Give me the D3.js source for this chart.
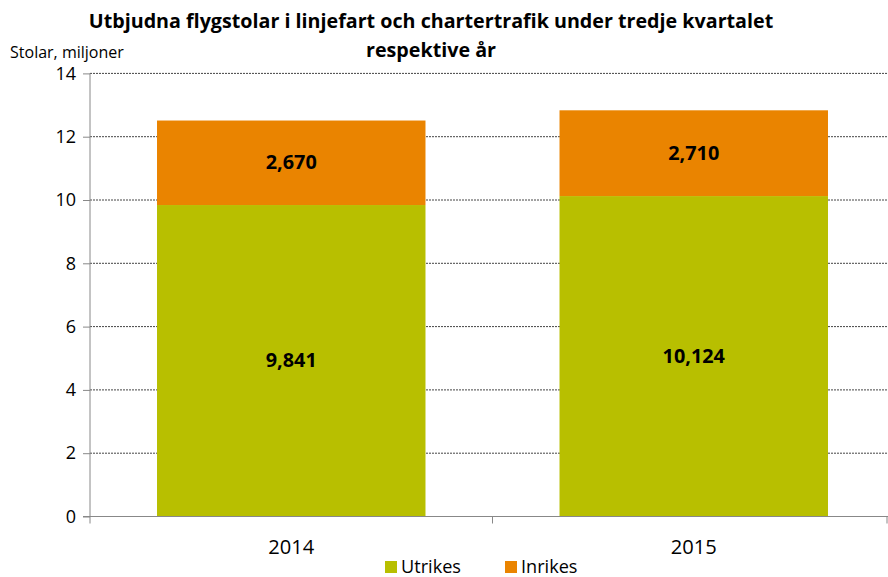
<!DOCTYPE html>
<html><head><meta charset="utf-8">
<script src="https://cdn.jsdelivr.net/npm/d3@7"></script>
<style>body{margin:0;background:#fff}svg{display:block;font-family:"Open Sans",Lato,sans-serif}</style>
</head><body><svg id="c" width="888" height="577"></svg>
<script>
const categories = ["2014", "2015"];
const utrikes = [9.841, 10.124];
const inrikes = [2.670, 2.710];
const utrikesLabels = ["9,841", "10,124"];
const inrikesLabels = ["2,670", "2,710"];
const yTicks = [0, 2, 4, 6, 8, 10, 12, 14];
const seriesNames = ["Utrikes", "Inrikes"];
const colors = ["#b8bf00", "#ea8400"];

const svg = d3.select("#c");
const x0 = 90, x1 = 895, yTop = 73.4, yBot = 516.5;
const x = d3.scaleBand().domain(categories).range([x0, x1]).paddingInner(0.333).paddingOuter(0.1665);
const y = d3.scaleLinear().domain([0, 14]).range([yBot, yTop]);

function fitSize(sel, w) {
  const n = sel.node(); const fs = parseFloat(sel.attr("font-size"));
  const len = n.getComputedTextLength();
  return len > 0 ? fs * w / len : fs;
}

// gridlines
svg.append("g").selectAll("line").data(yTicks.filter(d => d > 0)).join("line")
  .attr("x1", x0).attr("x2", 888).attr("y1", d => y(d)).attr("y2", d => y(d))
  .attr("stroke", "#444").attr("stroke-width", 1).attr("stroke-dasharray", "2,1");

const rows = categories.map((c, i) => ({cat: c, Utrikes: utrikes[i], Inrikes: inrikes[i]}));
const stack = d3.stack().keys(seriesNames)(rows);
svg.append("g").selectAll("g").data(stack).join("g").attr("fill", (d, i) => colors[i])
  .selectAll("rect").data(d => d).join("rect")
  .attr("x", d => x(d.data.cat)).attr("width", x.bandwidth())
  .attr("y", d => y(d[1])).attr("height", d => y(d[0]) - y(d[1]));

// labels
const labels = [utrikesLabels, inrikesLabels];
const labelSel = [];
stack.forEach((s, si) => {
  labelSel.push(svg.append("g").selectAll("text").data(s).join("text")
    .attr("x", d => x(d.data.cat) + x.bandwidth() / 2)
    .attr("y", d => (y(d[0]) + y(d[1])) / 2 + 6.5)
    .attr("text-anchor", "middle").attr("font-weight", "bold").attr("font-size", 17)
    .text((d, i) => labels[si][i]));
});
const lfs = fitSize(d3.select(labelSel[1].nodes()[0]), 51);
labelSel.forEach(s => s.attr("font-size", lfs));

// y axis
const ya = d3.axisLeft(y).tickValues(yTicks).tickSize(7).tickPadding(7).tickFormat(d3.format("d"));
const gy = svg.append("g").attr("transform", `translate(${x0},0)`).call(ya);
gy.selectAll(".domain").attr("stroke", "#888").attr("d", `M0,${yBot}V${yTop}`);
gy.selectAll(".tick line").attr("stroke", "#888");
gy.selectAll("text").attr("font-size", 18).attr("fill", "#000").attr("font-family", "Open Sans");

// x axis
const gx = svg.append("g").attr("transform", `translate(0,${yBot})`);
gx.append("line").attr("x1", x0 - 7).attr("x2", 888).attr("stroke", "#888");
const bounds = [x0, (x(categories[0]) + x.bandwidth() + x(categories[1])) / 2, 887];
gx.selectAll(".xt").data(bounds).join("line").attr("class", "xt")
  .attr("x1", d => d).attr("x2", d => d).attr("y1", 0).attr("y2", 7).attr("stroke", "#888");
const xl = gx.selectAll("text").data(categories).join("text")
  .attr("x", d => x(d) + x.bandwidth() / 2).attr("y", 37)
  .attr("text-anchor", "middle").attr("font-size", 16).text(d => d);
xl.attr("font-size", fitSize(d3.select(xl.nodes()[0]), 46));

// title
const t1 = svg.append("text").attr("text-anchor", "middle").attr("font-weight", "bold").attr("font-size", 18)
  .attr("x", 431).attr("y", 28).text("Utbjudna flygstolar i linjefart och chartertrafik under tredje kvartalet");
t1.attr("font-size", fitSize(t1, 685));
svg.append("text").attr("text-anchor", "middle").attr("font-weight", "bold").attr("font-size", t1.attr("font-size"))
  .attr("x", 431).attr("y", 57).text("respektive år");

const st = svg.append("text").attr("x", 10).attr("y", 58).attr("font-size", 15).text("Stolar, miljoner");
st.attr("font-size", fitSize(st, 114));

// legend
const lg = svg.append("g").selectAll("g").data(seriesNames).join("g")
  .attr("transform", (d, i) => `translate(${385 + i * 120},0)`);
lg.append("rect").attr("y", 561).attr("width", 12).attr("height", 12).attr("fill", (d, i) => colors[i]);
const lt = lg.append("text").attr("x", 16).attr("y", 573).attr("font-size", 16).text(d => d);
lt.attr("font-size", fitSize(d3.select(lt.nodes()[0]), 60));
</script></body></html>
